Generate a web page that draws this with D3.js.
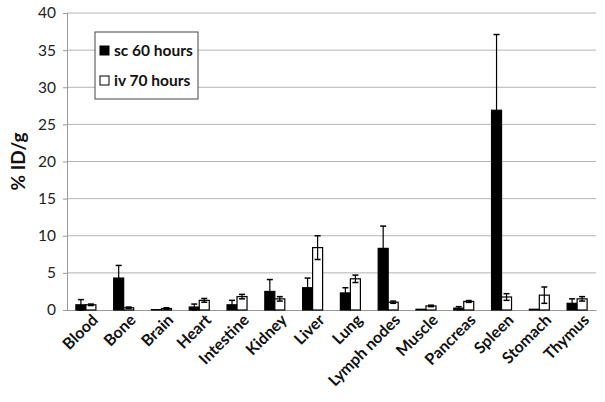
<!DOCTYPE html>
<html>
<head>
<meta charset="utf-8">
<script src="https://cdn.jsdelivr.net/npm/d3@7"></script>
<style>
  body { margin: 0; background: #fff; }
  text { font-family: Lato, "Open Sans", sans-serif; }
</style>
</head>
<body>
<svg class="organs" width="605" height="402"></svg>
<script>
var organs = ["Blood", "Bone", "Brain", "Heart", "Intestine", "Kidney", "Liver", "Lung",
              "Lymph nodes", "Muscle", "Pancreas", "Spleen", "Stomach", "Thymus"];
var scValues = [0.7, 4.3, 0.05, 0.4, 0.7, 2.5, 3.0, 2.3, 8.3, 0.1, 0.25, 26.9, 0.1, 0.9];
var scErrors = [0.7, 1.7, 0, 0.4, 0.6, 1.6, 1.3, 0.7, 3.0, 0, 0.2, 10.2, 0, 0.6];
var ivValues = [0.7, 0.3, 0.2, 1.3, 1.8, 1.5, 8.4, 4.2, 1.05, 0.55, 1.15, 1.75, 2.0, 1.5];
var ivErrors = [0.1, 0.1, 0.1, 0.25, 0.3, 0.3, 1.6, 0.5, 0.15, 0.1, 0.12, 0.45, 1.1, 0.3];
var seriesNames = ["sc 60 hours", "iv 70 hours"];
var yTicks = [0, 5, 10, 15, 20, 25, 30, 35, 40];

var svg = d3.select("svg.organs"),
    margin = {top: 13, right: 9, bottom: 92, left: 67},
    width = +svg.attr("width") - margin.left - margin.right,
    height = +svg.attr("height") - margin.top - margin.bottom,
    g = svg.append("g").attr("transform", "translate(" + margin.left + "," + margin.top + ")");

var x = d3.scaleBand().domain(organs).range([0, width]);
var x1 = d3.scaleBand().domain(seriesNames).range([x.bandwidth() / 2 - 10, x.bandwidth() / 2 + 10]);
var y = d3.scaleLinear().domain([0, 40]).range([height, 0]);

// gridlines
g.append("g").selectAll("line")
  .data(yTicks.slice(1))
  .enter().append("line")
    .attr("x1", 0).attr("x2", width)
    .attr("y1", function (d) { return y(d); })
    .attr("y2", function (d) { return y(d); })
    .attr("stroke", "#b3b3b3").attr("stroke-width", 1);

var yAxis = g.append("g")
    .call(d3.axisLeft(y).tickValues(yTicks).tickSize(4).tickPadding(7));
yAxis.select(".domain").attr("stroke", "#999");
yAxis.selectAll(".tick line").attr("stroke", "#999");
yAxis.selectAll(".tick text").attr("font-size", "15.5px").attr("fill", "#222");

var xAxis = g.append("g")
    .attr("transform", "translate(0," + height + ")")
    .call(d3.axisBottom(x).tickSize(0).tickPadding(10));
xAxis.select(".domain").attr("stroke", "#999");
xAxis.selectAll(".tick text")
    .attr("font-size", "16px").attr("font-weight", "bold").attr("fill", "#111")
    .attr("text-anchor", "end")
    .attr("dy", "0.35em")
    .attr("transform", "translate(2,0) rotate(-45)");

var rows = organs.map(function (o, i) {
  return [
    {organ: o, s: seriesNames[0], v: scValues[i], e: scErrors[i], fill: "#000"},
    {organ: o, s: seriesNames[1], v: ivValues[i], e: ivErrors[i], fill: "#fff"}
  ];
});
var flat = [].concat.apply([], rows);

var bar = g.selectAll(".bar")
  .data(flat)
  .enter().append("g")
    .attr("class", "bar")
    .attr("transform", function (d) { return "translate(" + (x(d.organ) + x1(d.s)) + ",0)"; });

bar.append("rect")
    .attr("x", 0)
    .attr("y", function (d) { return y(d.v); })
    .attr("width", x1.bandwidth())
    .attr("height", function (d) { return height - y(d.v); })
    .attr("fill", function (d) { return d.fill; })
    .attr("stroke", "#000").attr("stroke-width", 1.2);

var err = bar.filter(function (d) { return d.e > 0; });
var cx = x1.bandwidth() / 2;
err.append("line")
    .attr("x1", cx).attr("x2", cx)
    .attr("y1", function (d) { return y(Math.max(0, d.v - d.e)); })
    .attr("y2", function (d) { return y(d.v + d.e); })
    .attr("stroke", "#000").attr("stroke-width", 1.2);
err.append("line")
    .attr("x1", cx - 3).attr("x2", cx + 3)
    .attr("y1", function (d) { return y(d.v + d.e); })
    .attr("y2", function (d) { return y(d.v + d.e); })
    .attr("stroke", "#000").attr("stroke-width", 1.5);
err.append("line")
    .attr("x1", cx - 3).attr("x2", cx + 3)
    .attr("y1", function (d) { return y(Math.max(0, d.v - d.e)); })
    .attr("y2", function (d) { return y(Math.max(0, d.v - d.e)); })
    .attr("stroke", "#000").attr("stroke-width", 1.5);

// legend
var legend = g.append("g").attr("transform", "translate(28,19)");
legend.append("rect")
    .attr("width", 103).attr("height", 67)
    .attr("fill", "#fff").attr("stroke", "#444").attr("stroke-width", 1);
var item = legend.selectAll(".item")
  .data(seriesNames)
  .enter().append("g")
    .attr("transform", function (d, i) { return "translate(5," + (i === 0 ? 14 : 44) + ")"; });
item.append("rect")
    .attr("width", 9).attr("height", 9)
    .attr("fill", function (d, i) { return i === 0 ? "#000" : "#fff"; })
    .attr("stroke", "#000");
item.append("text")
    .attr("x", 14).attr("y", 10)
    .attr("font-size", "15.5px").attr("font-weight", "bold").attr("fill", "#111")
    .text(function (d) { return d; });

svg.append("text")
    .attr("text-anchor", "middle")
    .attr("transform", "translate(25," + (margin.top + height / 2) + ") rotate(-90)")
    .attr("font-size", "19px").attr("font-weight", "bold").attr("fill", "#111")
    .text("% ID/g");
</script>
</body>
</html>
